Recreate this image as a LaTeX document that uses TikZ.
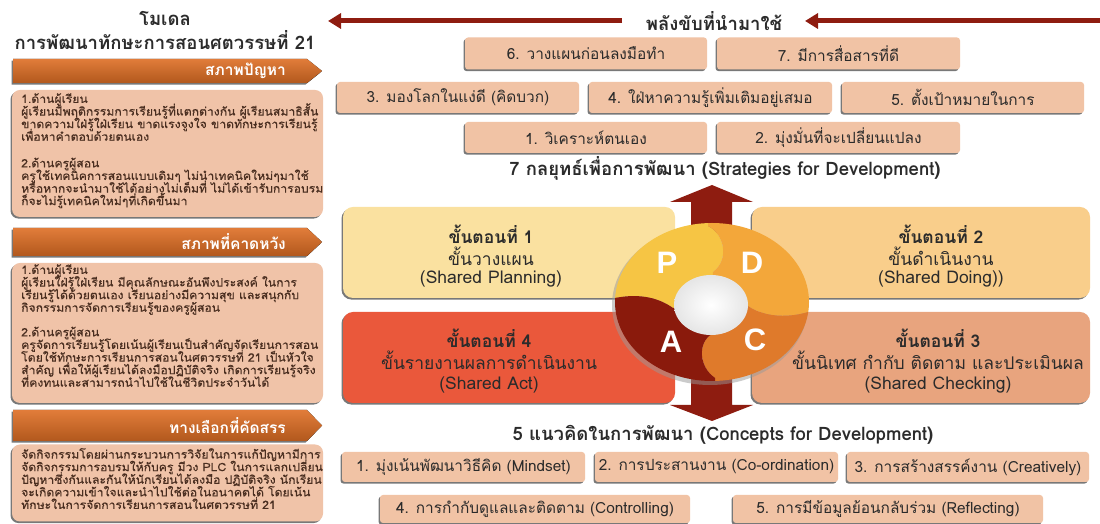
\documentclass[tikz,border=0pt]{standalone}
\usepackage{fontspec}
\setmainfont[Script=Thai]{Loma}
\newfontfamily\lomac[Script=Thai,FakeStretch=1.06,FakeBold=0.5]{Loma}
\newfontfamily\arialf{Liberation Sans}
\usetikzlibrary{shadows,arrows.meta}
\setlength{\lineskiplimit}{-20pt}
\definecolor{peach}{HTML}{F1C3A5}
\definecolor{lpeach}{HTML}{F0C3A8}
\definecolor{bann}{HTML}{DE6E24}
\definecolor{dred}{HTML}{8E1C10}
\definecolor{txt}{HTML}{2B2B2B}
\definecolor{ltxt}{HTML}{4A2E20}
\definecolor{pyel}{HTML}{F6C544}
\definecolor{dora}{HTML}{F3A73A}
\definecolor{cora}{HTML}{DF7A2B}
\definecolor{ared}{HTML}{8A1A0C}
\definecolor{stone}{HTML}{FAE1A0}
\definecolor{sttwo}{HTML}{F9CE8B}
\definecolor{stthree}{HTML}{E8A47E}
\definecolor{stfour}{HTML}{EA583B}
\begin{document}
\begin{tikzpicture}[x=1pt,y=1pt,
  shad/.style={drop shadow={shadow xshift=-1.5pt,shadow yshift=-1.6pt,opacity=.7,fill=black!75}},
  pbox/.style={fill=peach, rounded corners=3pt, shad, inner sep=0pt, font=\fontsize{15.4}{17}\selectfont, text=txt},
  lbox/.style={fill=lpeach, rounded corners=8pt, shad, inner sep=0pt},
  ltext/.style={align=left, font=\lomac\fontsize{11.5}{12.6}\selectfont, text=ltxt, inner sep=0pt, anchor=north west},
  banner/.style={top color=bann!90!white, bottom color=bann!80!black, shad},
  btext/.style={font=\fontsize{15.5}{17}\selectfont\bfseries, text=white, anchor=east, inner sep=0pt},
  stepbox/.style={rounded corners=10pt, shad, inner sep=0pt, minimum width=335pt, minimum height=91pt},
  steptext/.style={align=center, font=\fontsize{17.5}{22}\selectfont, text=txt, inner sep=0pt},
  title/.style={font=\fontsize{18.5}{20}\selectfont\bfseries, text=txt, inner sep=0pt},
  letter/.style={font=\arialf\fontsize{31}{31}\selectfont\bfseries, text=white, inner sep=0pt},
  bigarrow/.style={fill=dred}
]
\useasboundingbox (0,0) rectangle (1100,524);
\fill[white] (0,0) rectangle (1100,524);

% ---------- left column ----------
\node[title] (mt1) at (165,506) {โมเดล};
\node[title] (mt2) at (165,484) {การพัฒนาทักษะการสอนศตวรรษที่ 21};

\fill[banner] (13,465) -- (307,465) -- (322,453) -- (307,441) -- (13,441) -- cycle;
\node[btext] (bn1) at (286,453) {สภาพปัญหา};
\node[lbox, minimum width=311pt, minimum height=127pt] (lb1) at (167.5,370.5) {};
\node[ltext] (lt1) at (21,431) {1.ด้านผู้เรียน\\
ผู้เรียนมีพฤติกรรมการเรียนรู้ที่แตกต่างกัน ผู้เรียนสมาธิสั้น\\
ขาดความใฝ่รู้ใฝ่เรียน ขาดแรงจูงใจ ขาดทักษะการเรียนรู้\\
เพื่อหาคำตอบด้วยตนเอง\\[14pt]
2.ด้านครูผู้สอน\\
ครูใช้เทคนิคการสอนแบบเดิมๆ ไม่นำเทคนิคใหม่ๆมาใช้\\
หรือหากจะนำมาใช้ได้อย่างไม่เต็มที่ ไม่ได้เข้ารับการอบรม\\
ก็จะไม่รู้เทคนิคใหม่ๆที่เกิดขึ้นมา};

\fill[banner] (13,296) -- (307,296) -- (322,282) -- (307,268) -- (13,268) -- cycle;
\node[btext] (bn2) at (286,282) {สภาพที่คาดหวัง};
\node[lbox, minimum width=311pt, minimum height=140pt] (lb2) at (167.5,191) {};
\node[ltext] (lt2) at (21,260) {1.ด้านผู้เรียน\\
ผู้เรียนใฝ่รู้ใฝ่เรียน มีคุณลักษณะอันพึงประสงค์ ในการ\\
เรียนรู้ได้ด้วยตนเอง เรียนอย่างมีความสุข และสนุกกับ\\
กิจกรรมการจัดการเรียนรู้ของครูผู้สอน\\[12pt]
2.ด้านครูผู้สอน\\
ครูจัดการเรียนรู้โดยเน้นผู้เรียนเป็นสำคัญจัดเรียนการสอน\\
โดยใช้ทักษะการเรียนการสอนในศตวรรษที่ 21 เป็นหัวใจ\\
สำคัญ เพื่อให้ผู้เรียนได้ลงมือปฏิบัติจริง เกิดการเรียนรู้จริง\\
ที่คงทนและสามารถนำไปใช้ในชีวิตประจำวันได้};

\fill[banner] (13,114) -- (307,114) -- (322,98.5) -- (307,83) -- (13,83) -- cycle;
\node[btext] (bn3) at (286,98.5) {ทางเลือกที่คัดสรร};
\node[lbox, minimum width=311pt, minimum height=77pt] (lb3) at (167.5,41) {};
\node[ltext] (lt3) at (21,76) {จัดกิจกรรมโดยผ่านกระบวนการวิจัยในการแก้ปัญหามีการ\\
จัดกิจกรรมการอบรมให้กับครู มีวง PLC ในการแลกเปลี่ยน\\
ปัญหาซึ่งกันและกันให้นักเรียนได้ลงมือ ปฏิบัติจริง นักเรียน\\
จะเกิดความเข้าใจและนำไปใช้ต่อในอนาคตได้ โดยเน้น\\
ทักษะในการจัดการเรียนการสอนในศตวรรษที่ 21};

% ---------- top: driving forces ----------
\node[title] (drv) at (714,503) {พลังขับที่นำมาใช้};
\coordinate (al1) at (622,503);
\coordinate (al2) at (328,503);
\coordinate (ar1) at (1100,503);
\coordinate (ar2) at (805,503);
\draw[dred, line width=5pt, -{Triangle[length=13pt,width=15pt]}] (al1) -- (al2);
\draw[dred, line width=5pt, -{Triangle[length=13pt,width=15pt]}] (ar1) -- (ar2);

\node[pbox, minimum width=242pt, minimum height=32pt] (s6) at (586,470.5) {6. วางแผนก่อนลงมือทำ};
\node[pbox, minimum width=243pt, minimum height=32pt] (s7) at (838.5,470.5) {7. มีการสื่อสารที่ดี};
\node[pbox, minimum width=242pt, minimum height=31pt] (s3) at (458,426.5) {3. มองโลกในแง่ดี (คิดบวก)};
\node[pbox, minimum width=243pt, minimum height=31pt] (s4) at (710.5,426.5) {4. ใฝ่หาความรู้เพิ่มเติมอยู่เสมอ};
\node[pbox, minimum width=242pt, minimum height=31pt] (s5) at (963,426.5) {5. ตั้งเป้าหมายในการ};
\node[pbox, minimum width=242pt, minimum height=31pt] (s1) at (586,386.5) {1. วิเคราะห์ตนเอง};
\node[pbox, minimum width=243pt, minimum height=31pt] (s2) at (838.5,386.5) {2. มุ่งมั่นที่จะเปลี่ยนแปลง};

\node[title] (t7) at (725,356) {7 กลยุทธ์เพื่อการพัฒนา (Strategies for Development)};

% ---------- step boxes ----------
\node[stepbox, fill=stone, minimum width=332pt] (st1) at (509,271.5) {};
\node[stepbox, fill=sttwo, minimum width=338pt] (st2) at (921,271.5) {};
\node[stepbox, fill=stfour, minimum width=332pt] (st4) at (509,166.5) {};
\node[stepbox, fill=stthree, minimum width=338pt] (st3) at (921,166.5) {};

\node[steptext] (tx1) at (491,268) {\textbf{ขั้นตอนที่ 1}\\ขั้นวางแผน\\[-4pt](Shared Planning)};
\node[steptext] (tx2) at (941,268) {\textbf{ขั้นตอนที่ 2}\\ขั้นดำเนินงาน\\[-4pt](Shared Doing))};
\node[steptext] (tx4) at (489,163) {\textbf{ขั้นตอนที่ 4}\\ขั้นรายงานผลการดำเนินงาน\\[-2pt](Shared Act)};
\node[steptext] (tx3) at (938,163) {\textbf{ขั้นตอนที่ 3}\\ขั้นนิเทศ กำกับ ติดตาม และประเมินผล\\[-2pt](Shared Checking)};

% ---------- arrows up/down ----------
\fill[bigarrow] (691,290) -- (691,322) -- (670,322) -- (712,339) -- (753,322) -- (732,322) -- (732,290) -- cycle;
\fill[bigarrow] (691,150) -- (691,119) -- (670,119) -- (712,103) -- (753,119) -- (732,119) -- (732,150) -- cycle;

% ---------- PDCA wheel ----------
\fill[black!40, opacity=.5] (710,219) ellipse [x radius=98, y radius=80];
\begin{scope}
\clip (712,222) ellipse [x radius=97, y radius=79];
\fill[pyel] (712,222) -- (673,216) .. controls (655,229) and (630,232) .. (600,222) -- (600,340) -- (708,340) -- (708,298) .. controls (724,290) and (730,265) .. (713,252) -- cycle;
\fill[dora] (712,222) -- (713,252) .. controls (730,265) and (724,290) .. (708,298) -- (708,340) -- (830,340) -- (830,222) .. controls (805,206) and (770,203) .. (748,218) -- cycle;
\fill[cora] (712,222) -- (748,218) .. controls (770,203) and (805,206) .. (830,222) -- (830,100) -- (715,100) -- (715,146) .. controls (698,158) and (698,182) .. (712,190) -- cycle;
\fill[ared] (712,222) -- (712,190) .. controls (698,182) and (698,158) .. (715,146) -- (715,100) -- (600,100) -- (600,222) .. controls (630,232) and (655,229) .. (673,216) -- cycle;
\end{scope}
\shade[inner color=white, outer color=black!10] (711,219) ellipse [x radius=37, y radius=30];
\node[letter] (lp) at (667,261) {P};
\node[letter] (ld) at (752,261) {D};
\node[letter] (la) at (671,182) {A};
\node[letter] (lc) at (755,184) {C};

% ---------- bottom: concepts ----------
\node[title] (t5) at (723,89) {5 แนวคิดในการพัฒนา (Concepts for Development)};
\node[pbox, minimum width=243pt, minimum height=30pt] (c1) at (463.5,57) {1. มุ่งเน้นพัฒนาวิธีคิด (Mindset)};
\node[pbox, minimum width=243pt, minimum height=30pt] (c2) at (716.5,57) {2. การประสานงาน (Co-ordination)};
\node[pbox, minimum width=242pt, minimum height=30pt] (c3) at (968,57) {3. การสร้างสรรค์งาน (Creatively)};
\node[pbox, minimum width=310pt, minimum height=28pt] (c4) at (535,15) {4. การกำกับดูแลและติดตาม (Controlling)};
\node[pbox, minimum width=310pt, minimum height=28pt] (c5) at (888,15) {5. การมีข้อมูลย้อนกลับร่วม (Reflecting)};
\end{tikzpicture}
\end{document}
